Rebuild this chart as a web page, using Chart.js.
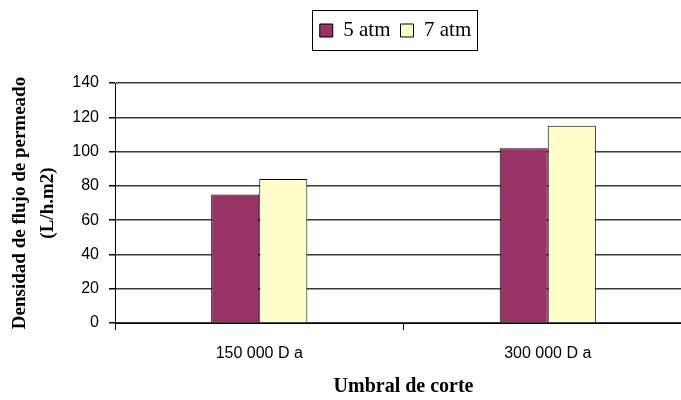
<!DOCTYPE html>
<html>
<head>
<meta charset="utf-8">
<script src="https://cdn.jsdelivr.net/npm/chart.js@4/dist/chart.umd.min.js"></script>
<style>
  html, body { margin: 0; padding: 0; background: #fff; overflow: hidden; }
  #wrap { width: 681px; height: 400px; overflow: hidden; position: relative; }
  canvas { display: block; }
</style>
</head>
<body>
<div id="wrap"><canvas id="c" width="692" height="400"></canvas></div>
<script>
// Membrane cut-off thresholds and permeate flux density (L/h.m2)
const categories = ['150 000 D a', '300 000 D a'];
const flux5atm = [75, 102];
const flux7atm = [84, 115];
const yTickValues = [0, 20, 40, 60, 80, 100, 120, 140];

// Shifts the legend a little to the left and frames its entries
const legendFrame = {
  id: 'legendFrame',
  afterLayout(chart) {
    const lg = chart.legend;
    if (!lg) return;
    lg.left -= 8;
    lg.right -= 8;
  },
  afterDraw(chart) {
    const lg = chart.legend;
    if (!lg || !lg.legendHitBoxes || !lg.legendHitBoxes.length) return;
    const boxes = lg.legendHitBoxes;
    let l = Infinity, r = -Infinity, t = Infinity, b = -Infinity;
    boxes.forEach(h => {
      l = Math.min(l, h.left); r = Math.max(r, h.left + h.width);
      t = Math.min(t, h.top); b = Math.max(b, h.top + h.height);
    });
    const ctx = chart.ctx;
    ctx.save();
    ctx.strokeStyle = '#000';
    ctx.lineWidth = 1;
    ctx.strokeRect(Math.round(l - 8) + 0.5, Math.round(t - 10) + 0.5,
                   Math.round(r - l + 14), Math.round(b - t + 19));
    ctx.restore();
  }
};

new Chart(document.getElementById('c'), {
  type: 'bar',
  data: {
    labels: categories,
    datasets: [
      { label: '5 atm', data: flux5atm, backgroundColor: '#993366', borderColor: '#000', borderWidth: 1 },
      { label: '7 atm', data: flux7atm, backgroundColor: '#FFFFCC', borderColor: '#000', borderWidth: 1 }
    ]
  },
  options: {
    responsive: false,
    animation: false,
    devicePixelRatio: 1,
    layout: { padding: { top: 10, right: 0, bottom: 0, left: 0 } },
    datasets: { bar: { categoryPercentage: 1 / 3, barPercentage: 1 } },
    plugins: {
      tooltip: { enabled: false },
      // empty title used as a gap between the legend and the plot
      title: {
        display: true,
        text: '',
        weight: 500,
        font: { size: 10, lineHeight: 1 },
        padding: { top: 22, bottom: 0 }
      },
      legend: {
        position: 'top',
        fullSize: false,
        labels: {
          color: '#000',
          font: { family: 'Liberation Serif', size: 21 },
          boxWidth: 13,
          boxHeight: 13,
          padding: 10
        }
      }
    },
    scales: {
      x: {
        afterFit(scale) { scale.height = 77; },
        grid: { display: true, drawOnChartArea: false, offset: true, color: '#000', tickLength: 7, tickWidth: 1 },
        border: { color: '#000', width: 1 },
        ticks: { color: '#000', font: { family: 'Liberation Sans', size: 16 }, padding: 14 },
        title: {
          display: true,
          text: 'Umbral de corte',
          color: '#000',
          font: { family: 'Liberation Serif', size: 20, weight: 'bold' },
          padding: { top: 0, bottom: 1 }
        }
      },
      y: {
        min: 0,
        max: 140,
        afterFit(scale) { scale.width = 115; },
        afterBuildTicks(scale) { scale.ticks = yTickValues.map(v => ({ value: v })); },
        grid: { color: '#3a3a3a', lineWidth: 1.5, tickLength: 6, tickColor: '#000' },
        border: { color: '#000', width: 1 },
        ticks: { color: '#000', font: { family: 'Liberation Sans', size: 16 }, padding: 10 },
        title: {
          display: true,
          text: ['Densidad de flujo de permeado', '(L/h.m2)'],
          color: '#000',
          font: { family: 'Liberation Serif', size: 19, weight: 'bold', lineHeight: 1.47 },
          padding: { top: 6, bottom: 4 }
        }
      }
    }
  },
  plugins: [legendFrame]
});
</script>
</body>
</html>
